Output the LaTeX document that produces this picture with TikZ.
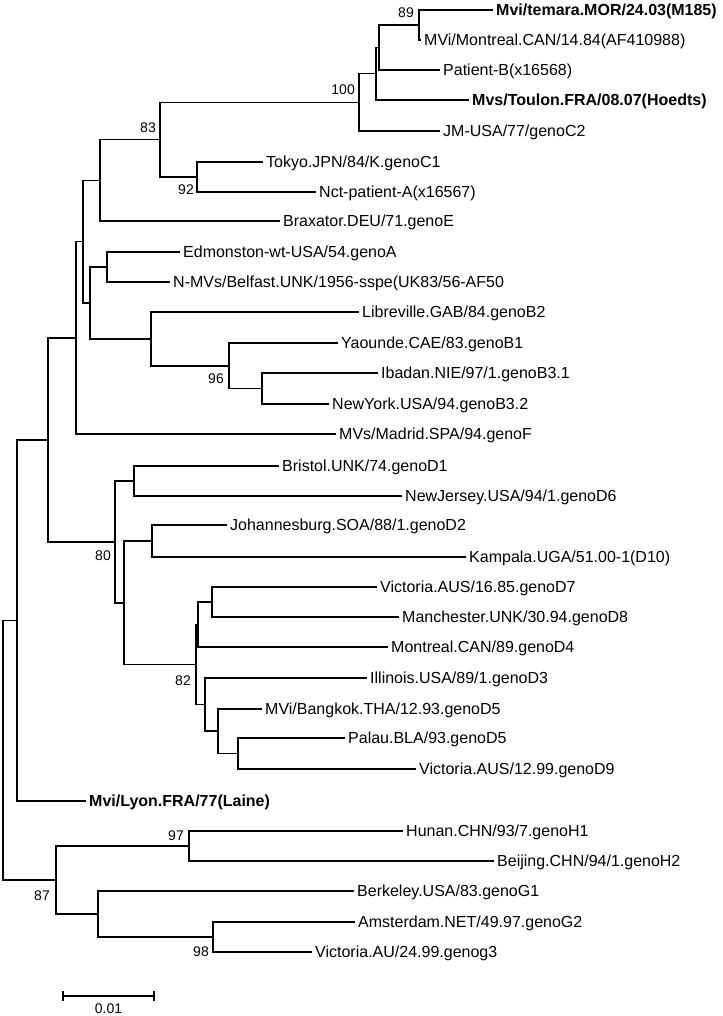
\documentclass[tikz,border=0pt]{standalone}
\usepackage{fontspec}
\setmainfont{Liberation Sans}
\begin{document}
\begin{tikzpicture}[x=1pt,y={(0pt,-1pt)},
  leaf/.style={anchor=west,inner xsep=3pt,inner ysep=0pt,text height=11.5pt,text depth=0pt,font=\fontsize{16}{18}\selectfont},
  boot/.style={anchor=east,inner sep=0pt,text height=10pt,text depth=0pt,font=\fontsize{14}{16}\selectfont},
  branch/.style={line width=1.4pt}]
 \useasboundingbox (0,0) rectangle (722,1016);
 % leaves
 \node[leaf] (temara) at (493,10) {\bfseries Mvi/temara.MOR/24.03(M185)};
 \node[leaf] (mtlA) at (421,40) {MVi/Montreal.CAN/14.84(AF410988)};
 \node[leaf] (patB) at (440,70) {Patient-B(x16568)};
 \node[leaf] (toulon) at (469,100) {\bfseries Mvs/Toulon.FRA/08.07(Hoedts)};
 \node[leaf] (jm) at (440,131) {JM-USA/77/genoC2};
 \node[leaf] (tokyo) at (263,162) {Tokyo.JPN/84/K.genoC1};
 \node[leaf] (nct) at (316,192) {Nct-patient-A(x16567)};
 \node[leaf] (brax) at (280,221) {Braxator.DEU/71.genoE};
 \node[leaf] (edm) at (180,252) {Edmonston-wt-USA/54.genoA};
 \node[leaf] (belf) at (170,282) {N-MVs/Belfast.UNK/1956-sspe(UK83/56-AF50};
 \node[leaf] (libr) at (359,312) {Libreville.GAB/84.genoB2};
 \node[leaf] (yaou) at (338,343) {Yaounde.CAE/83.genoB1};
 \node[leaf] (ibad) at (378,373) {Ibadan.NIE/97/1.genoB3.1};
 \node[leaf] (nyork) at (329,404) {NewYork.USA/94.genoB3.2};
 \node[leaf] (madr) at (336,434) {MVs/Madrid.SPA/94.genoF};
 \node[leaf] (bris) at (279,466) {Bristol.UNK/74.genoD1};
 \node[leaf] (njer) at (402,496) {NewJersey.USA/94/1.genoD6};
 \node[leaf] (joh) at (227,525) {Johannesburg.SOA/88/1.genoD2};
 \node[leaf] (kamp) at (466,557) {Kampala.UGA/51.00-1(D10)};
 \node[leaf] (vicD) at (377,587) {Victoria.AUS/16.85.genoD7};
 \node[leaf] (manch) at (399,617) {Manchester.UNK/30.94.genoD8};
 \node[leaf] (mtlB) at (388,647) {Montreal.CAN/89.genoD4};
 \node[leaf] (ill) at (367,678) {Illinois.USA/89/1.genoD3};
 \node[leaf] (bkk) at (262,709) {MVi/Bangkok.THA/12.93.genoD5};
 \node[leaf] (palau) at (345,738) {Palau.BLA/93.genoD5};
 \node[leaf] (vicE) at (416,769) {Victoria.AUS/12.99.genoD9};
 \node[leaf] (lyon) at (86,801) {\bfseries Mvi/Lyon.FRA/77(Laine)};
 \node[leaf] (hunan) at (403,831) {Hunan.CHN/93/7.genoH1};
 \node[leaf] (beij) at (494,861) {Beijing.CHN/94/1.genoH2};
 \node[leaf] (berk) at (354,891) {Berkeley.USA/83.genoG1};
 \node[leaf] (amst) at (355,922) {Amsterdam.NET/49.97.genoG2};
 \node[leaf] (vicG) at (312,952) {Victoria.AU/24.99.genog3};
 % inner nodes
 \coordinate (n89) at (419,25);
 \coordinate (nA) at (379,47.5);
 \coordinate (nB) at (376,73.8);
 \coordinate (n100) at (359,102.4);
 \coordinate (n92) at (197,177);
 \coordinate (n83) at (160,139.7);
 \coordinate (nC) at (100,180.3);
 \coordinate (nD) at (107,267);
 \coordinate (nE) at (262,388.5);
 \coordinate (n96) at (229,365.8);
 \coordinate (nF) at (151,338.9);
 \coordinate (nG) at (90,303);
 \coordinate (nH) at (83,241.6);
 \coordinate (nI) at (76,337.8);
 \coordinate (nK) at (134,481);
 \coordinate (nM) at (152,541);
 \coordinate (nO) at (212,602);
 \coordinate (nP) at (198,624.5);
 \coordinate (nR) at (238,753.5);
 \coordinate (nS) at (218,731);
 \coordinate (nT) at (205,704.6);
 \coordinate (n82) at (196,664.6);
 \coordinate (nN) at (124,602.8);
 \coordinate (n80) at (115,541.9);
 \coordinate (nJ) at (48,439.9);
 \coordinate (nU) at (17,620.4);
 \coordinate (n97) at (189,846);
 \coordinate (n98) at (213,937);
 \coordinate (nX) at (98,914);
 \coordinate (n87) at (56,880);
 \coordinate (root) at (3,750.2);
 % branches
 \draw[branch] (n89) |- (temara.west) (n89) |- (mtlA.west);
 \draw[branch] (nA) |- (n89) (nA) |- (patB.west);
 \draw[branch] (nB) |- (nA) (nB) |- (toulon.west);
 \draw[branch] (n100) |- (nB) (n100) |- (jm.west);
 \draw[branch] (n92) |- (tokyo.west) (n92) |- (nct.west);
 \draw[branch] (n83) |- (n100) (n83) |- (n92);
 \draw[branch] (nC) |- (n83) (nC) |- (brax.west);
 \draw[branch] (nD) |- (edm.west) (nD) |- (belf.west);
 \draw[branch] (nE) |- (ibad.west) (nE) |- (nyork.west);
 \draw[branch] (n96) |- (yaou.west) (n96) |- (nE);
 \draw[branch] (nF) |- (libr.west) (nF) |- (n96);
 \draw[branch] (nG) |- (nD) (nG) |- (nF);
 \draw[branch] (nH) |- (nC) (nH) |- (nG);
 \draw[branch] (nI) |- (nH) (nI) |- (madr.west);
 \draw[branch] (nK) |- (bris.west) (nK) |- (njer.west);
 \draw[branch] (nM) |- (joh.west) (nM) |- (kamp.west);
 \draw[branch] (nO) |- (vicD.west) (nO) |- (manch.west);
 \draw[branch] (nP) |- (nO) (nP) |- (mtlB.west);
 \draw[branch] (nR) |- (palau.west) (nR) |- (vicE.west);
 \draw[branch] (nS) |- (bkk.west) (nS) |- (nR);
 \draw[branch] (nT) |- (ill.west) (nT) |- (nS);
 \draw[branch] (n82) |- (nP) (n82) |- (nT);
 \draw[branch] (nN) |- (nM) (nN) |- (n82);
 \draw[branch] (n80) |- (nK) (n80) |- (nN);
 \draw[branch] (nJ) |- (nI) (nJ) |- (n80);
 \draw[branch] (nU) |- (nJ) (nU) |- (lyon.west);
 \draw[branch] (n97) |- (hunan.west) (n97) |- (beij.west);
 \draw[branch] (n98) |- (amst.west) (n98) |- (vicG.west);
 \draw[branch] (nX) |- (berk.west) (nX) |- (n98);
 \draw[branch] (n87) |- (n97) (n87) |- (nX);
 \draw[branch] (root) |- (nU) (root) |- (n87);
 % bootstrap values
 \node[boot] (b89) at (414,13) {89};
 \node[boot] (b100) at (355,90) {100};
 \node[boot] (b83) at (156,128) {83};
 \node[boot] (b92) at (194,190) {92};
 \node[boot] (b96) at (224,378) {96};
 \node[boot] (b80) at (111,555) {80};
 \node[boot] (b82) at (191,680) {82};
 \node[boot] (b97) at (184,835) {97};
 \node[boot] (b87) at (50,895) {87};
 \node[boot] (b98) at (209,951) {98};
 % scale bar
 \coordinate (sbl) at (63,996);
 \coordinate (sbr) at (154,996);
 \draw[branch] (sbl) -- (sbr);
 \draw[branch] ([yshift=5pt]sbl) -- ([yshift=-5pt]sbl);
 \draw[branch] ([yshift=5pt]sbr) -- ([yshift=-5pt]sbr);
 \node[boot,anchor=center] (sblab) at (108.5,1008.5) {0.01};
\end{tikzpicture}
\end{document}
